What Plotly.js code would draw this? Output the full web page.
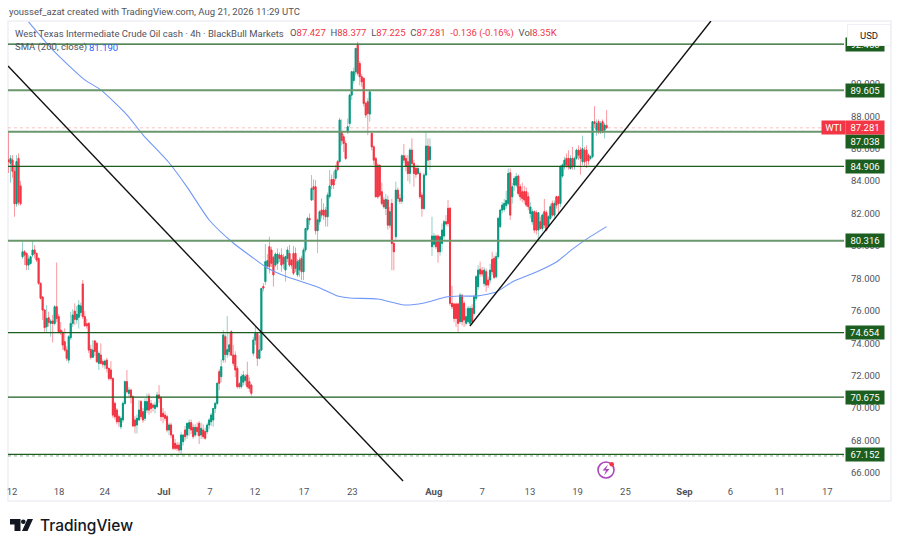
<!DOCTYPE html>
<html><head><meta charset="utf-8">
<script src="https://cdn.plot.ly/plotly-3.0.1.min.js"></script>
<style>html,body{margin:0;padding:0;background:#fff;overflow:hidden}#c{width:900px;height:549px}</style>
</head><body><div id="c"></div>
<script>
var opens=[85.3,85.1,85.3,84.6,82.6,85.4,83.7,79.33,79.64,79.54,
78.82,78.92,79.44,79.75,79.54,79.23,77.69,76.85,76.05,75.02,
75.57,75.22,75.37,75.22,76.25,75.64,74.81,74.67,74.09,73.58,
72.96,74.34,75.22,75.98,75.45,75.6,75.9,77.65,75.64,75.2,
75.22,73.62,73.13,74.14,73.99,72.76,73.27,72.86,72.66,72.96,
72.45,72.35,71.83,70.29,69.88,69.47,68.85,69.27,70.29,71.63,
70.91,71.11,70.7,69.27,68.96,69.27,70.4,69.78,69.37,69.88,
70.74,70.29,70.19,69.98,70.09,70.81,70.66,69.68,69.57,69.47,
68.65,68.96,68.34,67.83,67.72,67.72,67.42,67.93,68.65,68.34,
68.75,69.1,68.81,68.34,68.81,69.06,68.34,68.65,68.55,68.55,
68.96,69.16,69.27,69.98,70.29,72.24,71.94,72.97,74.4,73.3,
73.48,74.71,73.27,73.27,72.45,71.5,71.32,71.6,71.7,72.04,
71.63,71.42,73.38,74.2,74.61,73.07,73.58,77.5,77.8,78.76,
79.95,79.75,79.3,78.82,78.93,79.44,79.44,79.3,78.52,79.23,
79.54,79.13,79.54,79.54,78.21,78.52,79.23,78.41,79.75,81.02,
81.7,82.83,83.65,83.65,80.94,81.5,82.21,82.21,82.21,81.8,
83.04,84.1,84.1,84.17,85.2,85.2,87.0,86.73,86.32,87.04,
87.55,89.3,90.2,90.74,92.38,91.25,90.43,90.33,88.79,88.89,
88.13,86.94,86.11,85.39,84.98,84.98,83.34,82.83,82.31,82.83,
81.28,82.62,80.15,80.57,83.44,82.93,82.76,85.56,85.39,85.19,
84.47,85.91,85.09,84.78,84.47,84.47,83.13,82.31,84.37,86.16,
85.33,79.95,80.1,80.61,80.61,79.64,80.16,80.61,81.49,82.32,
82.32,76.46,76.42,76.42,76.42,75.33,76.97,76.46,75.23,75.33,
75.23,76.15,75.84,76.77,77.49,78.56,78.47,77.69,78.41,77.9,
77.9,79.17,79.23,78.1,79.34,81.19,82.21,82.25,82.5,82.62,
84.51,83.03,83.75,83.75,84.31,83.65,83.34,83.34,83.34,83.03,
82.0,81.49,82.11,82.05,80.98,81.49,81.08,82.11,82.05,81.23,
81.7,82.62,81.9,83.03,83.03,82.62,84.31,84.88,85.4,85.4,
84.78,85.4,84.88,85.4,85.91,85.91,85.19,85.91,85.91,85.6,
85.4,85.5,87.66,87.14,87.66,87.04,87.66,87.14,87.427];
var highs=[87.0,85.6,85.6,85.0,85.6,85.7,84.0,80.26,79.75,79.6,
79.43,79.4,80.36,80.05,79.6,79.3,77.75,76.9,76.1,76.35,
75.94,75.5,75.74,76.35,78.98,75.8,75.3,74.8,74.92,73.8,
74.5,75.94,76.1,76.46,76.3,76.66,76.5,77.9,75.98,75.5,
75.3,73.9,74.2,74.2,74.1,73.5,73.99,73.0,73.0,73.1,
72.5,72.9,71.9,70.4,70.0,69.6,69.5,70.4,71.7,72.35,
71.3,71.2,70.8,69.5,69.6,70.5,70.5,70.0,70.6,70.9,
70.9,70.5,70.3,70.4,71.0,71.42,70.7,70.0,69.8,69.6,
69.1,69.1,68.4,68.1,67.9,67.9,68.5,68.4,68.9,69.1,
69.3,69.3,69.0,69.0,69.1,69.2,69.1,69.0,68.8,69.1,
69.4,69.7,70.0,70.4,71.6,72.4,73.0,74.82,74.6,75.68,
74.7,74.8,73.9,73.5,72.6,71.6,72.1,72.3,72.1,72.86,
71.9,71.5,74.4,75.02,74.7,74.5,77.4,77.7,80.12,79.5,
80.57,79.95,79.4,79.6,79.85,79.6,79.85,79.5,79.4,79.95,
80.06,79.2,80.0,79.9,79.2,79.3,79.4,79.9,81.1,81.8,
82.0,84.37,84.1,84.06,81.7,82.2,82.93,82.63,82.4,83.3,
84.68,84.4,84.6,85.0,85.3,87.9,87.8,86.9,86.5,87.86,
89.4,90.8,91.0,92.2,92.6,91.4,90.6,90.4,88.9,89.1,
89.55,87.0,86.2,85.5,85.1,85.0,83.9,83.0,83.2,83.1,
82.4,82.9,80.3,83.96,83.6,83.2,85.65,86.28,85.6,85.6,
86.05,86.63,85.3,85.0,85.0,84.6,83.3,84.5,87.04,86.63,
86.63,81.8,80.8,80.7,80.7,80.6,81.39,81.6,81.9,82.83,
82.4,77.53,76.5,76.5,76.5,77.1,77.0,76.6,76.15,76.3,
76.3,76.4,77.0,78.2,78.8,79.03,78.7,78.7,78.6,78.1,
78.9,79.64,79.4,79.6,81.8,82.3,82.7,82.9,83.4,84.78,
84.78,83.9,84.3,84.5,84.4,83.8,83.9,83.7,83.6,83.3,
82.7,82.3,82.2,82.2,82.1,81.8,82.0,82.9,82.2,81.9,
82.6,82.8,82.8,83.1,83.1,85.0,85.1,85.5,85.7,85.9,
85.6,86.1,85.5,86.0,86.2,86.1,86.8,86.1,86.2,85.7,
85.6,87.7,88.62,87.8,87.8,87.7,87.8,87.6,88.377];
var lows=[84.5,83.9,84.2,81.8,82.4,82.5,82.5,79.2,78.82,78.51,
78.51,78.85,79.3,79.23,79.0,77.6,76.7,75.43,74.7,74.71,
75.02,74.4,74.05,75.1,75.3,74.6,74.5,73.6,73.48,72.9,
72.76,74.2,75.0,75.12,75.2,74.9,75.7,75.5,75.0,74.9,
73.4,73.0,73.1,73.2,72.8,72.35,72.7,72.5,72.4,72.2,
71.7,71.7,69.4,69.3,69.0,68.85,68.7,69.1,70.2,70.9,
70.7,70.3,68.85,68.44,68.44,69.2,69.3,69.1,69.2,69.7,
69.6,69.7,69.8,69.68,70.0,70.3,69.2,69.06,69.2,68.5,
68.34,68.14,67.4,67.4,67.35,67.25,67.11,67.7,68.0,68.1,
68.3,68.4,68.1,68.2,68.3,67.79,68.1,68.1,68.05,68.4,
68.7,68.9,68.85,69.7,70.2,71.1,71.6,72.8,72.8,73.1,
73.2,73.2,72.6,71.9,71.2,71.2,71.2,71.4,71.4,71.2,
71.0,70.75,73.2,73.9,72.6,73.0,73.5,77.2,77.59,78.6,
78.31,78.7,77.49,78.7,78.52,79.0,78.41,78.6,77.8,79.0,
78.7,78.6,78.2,78.4,78.1,78.1,77.9,77.9,79.6,80.9,
81.3,82.8,82.8,80.7,79.55,81.3,81.7,81.6,81.2,81.19,
82.9,83.5,83.5,84.0,84.6,85.1,86.2,85.8,85.3,86.9,
87.3,88.99,90.0,90.5,90.5,89.9,89.8,88.6,87.9,86.83,
87.66,85.9,85.0,83.0,82.9,83.0,82.5,82.3,81.9,81.0,
81.1,78.5,78.5,80.4,82.7,82.6,82.6,85.1,84.6,84.0,
83.85,84.8,83.65,84.2,84.4,82.9,81.8,82.2,84.3,84.9,
84.7,79.38,79.9,79.8,78.97,79.4,79.64,80.4,81.2,81.2,
76.3,76.1,75.3,75.0,74.71,75.2,75.1,75.0,75.1,75.2,
75.1,75.2,75.7,76.6,77.3,78.1,78.1,77.5,77.18,77.4,
77.7,78.2,77.95,78.0,79.2,81.1,82.0,82.1,82.3,82.5,
81.6,82.6,83.4,83.6,83.1,82.8,82.7,82.6,82.4,82.2,
81.7,81.3,80.8,80.7,80.3,81.0,80.9,81.1,80.9,81.1,
81.6,81.8,81.7,82.3,82.0,82.4,84.2,84.7,84.8,84.7,
84.7,84.7,84.7,85.3,85.3,84.4,85.0,84.9,84.8,85.0,
85.3,85.4,87.25,86.8,86.9,86.9,86.95,86.63,87.225];
var closes=[85.2,85.4,84.6,82.6,85.2,82.7,82.6,79.64,79.44,78.82,
79.19,79.33,79.75,79.54,79.13,77.69,76.77,76.05,74.96,75.53,
75.29,75.37,75.22,76.25,75.53,74.71,74.67,73.89,73.58,73.07,
74.4,75.22,75.74,75.48,75.78,76.35,76.3,75.64,75.08,75.08,
73.58,73.13,73.58,73.5,72.86,73.37,72.76,72.7,72.9,72.45,
71.83,71.83,69.57,69.47,69.16,69.16,69.37,70.29,71.63,71.01,
71.11,70.7,68.9,68.9,69.37,69.88,69.47,69.27,70.4,70.4,
69.88,69.98,70.05,70.19,70.81,70.6,69.47,69.47,69.37,68.65,
68.96,68.34,67.52,67.52,67.52,67.42,68.34,68.34,68.24,69.06,
69.1,68.65,68.24,68.81,68.55,68.3,68.75,68.24,68.14,68.96,
69.27,69.57,69.98,70.29,71.53,71.53,72.55,74.51,73.3,73.6,
73.9,73.27,72.76,72.35,71.32,71.32,71.94,72.04,71.94,71.32,
71.22,70.91,74.2,74.61,73.07,73.58,77.38,77.4,79.03,79.09,
78.72,78.93,78.21,79.5,79.5,79.23,78.82,78.9,79.34,79.75,
78.82,78.82,78.31,78.62,79.03,79.13,78.41,79.75,81.08,81.7,
81.6,83.55,83.5,80.94,81.6,82.11,81.9,81.9,81.8,83.14,
83.7,83.76,83.76,84.68,84.7,87.76,86.5,86.32,85.39,87.35,
89.3,90.74,90.74,92.18,90.64,90.43,90.12,88.79,88.07,88.17,
89.5,86.11,85.29,83.03,83.03,83.13,82.62,82.42,82.87,81.28,
82.11,80.15,79.64,83.44,82.93,82.76,85.56,85.29,84.92,84.47,
85.91,85.09,84.47,84.41,84.78,83.03,82.31,84.37,86.16,85.29,
86.11,80.61,80.61,79.95,79.64,80.57,80.98,81.49,81.35,81.39,
76.46,76.25,75.53,75.53,75.23,76.97,75.33,75.43,75.64,76.15,
76.15,75.33,76.87,78.1,78.51,78.27,78.27,78.51,77.59,77.59,
78.51,78.41,78.06,79.34,81.7,82.21,82.52,82.62,82.8,84.47,
81.9,83.65,84.16,84.27,83.24,83.03,82.93,82.83,82.52,82.42,
82.4,82.11,80.98,80.98,82.05,81.08,81.9,81.29,80.98,81.8,
82.42,81.9,82.62,82.52,82.62,84.88,84.99,85.29,84.99,84.88,
85.4,84.88,85.4,85.91,85.6,85.4,86.0,85.19,85.25,85.25,
85.5,87.66,87.55,87.55,87.04,87.55,87.04,87.45,87.281];

var smaBars=[10,22,38,46,59,67,80,89,100,112,122,129,139,145,154,164,170,184,197,207,218,225,233,243,251,263,273,281,288,298];
var smaValues=[93.81,92.09,90.24,89.62,88.08,86.85,85.13,83.63,81.6,80.18,79.25,78.64,78.08,77.84,77.47,76.91,76.79,76.73,76.36,76.48,76.85,76.91,76.91,77.16,77.78,78.39,79.01,79.8,80.42,81.19];

var levels=[92.45,89.605,87.038,84.906,80.316,74.654,70.675,67.152];
var levelLabels=["92.450","89.605","87.038","84.906","80.316","74.654","70.675","67.152"];
var lastPrice=87.281;
var lowerDotted=67.05;
var downTrendBars=[-0.25,196.6];
var downTrendPrices=[91.09,65.5];
var upTrendBars=[229.9,350];
var upTrendPrices=[75.06,93.87];

var timeTickBars=[1.75,25.2,48,77.4,100.3,122.8,147.2,171.3,211.9,236,259.8,283.5,307.4,336.8,359.7,384.2,408];
var timeTickLabels=["12","18","24","<b>Jul</b>","7","12","17","23","<b>Aug</b>","7","13","19","25","<b>Sep</b>","6","11","17"];
var priceTicks=[66,68,70,72,74,76,78,80,82,84,86,88,90];

var W=900,H=549,L=8,R=844,T=21,B=484;
function px(x){return (x-L)/(R-L);}
function py(y){return (B-y)/(B-T);}
var idx=opens.map(function(_,i){return i;});
var UP="#089981",DN="#f23645",GRN="#1b5e20",FONT="Roboto, 'Liberation Sans', sans-serif",FS=9.5;

var wicks={type:'candlestick',x:idx,open:opens,high:highs,low:lows,close:closes,
 increasing:{line:{color:'rgba(8,153,129,0.45)',width:1},fillcolor:'rgba(8,153,129,0.45)'},
 decreasing:{line:{color:'rgba(242,54,69,0.5)',width:1},fillcolor:'rgba(242,54,69,0.5)'},
 whiskerwidth:0,hoverinfo:'skip',showlegend:false};
var bodies={type:'candlestick',x:idx,open:opens,close:closes,
 high:opens.map(function(o,i){return Math.max(o,closes[i]);}),
 low:opens.map(function(o,i){return Math.min(o,closes[i]);}),
 increasing:{line:{color:UP,width:1},fillcolor:UP},
 decreasing:{line:{color:DN,width:1},fillcolor:DN},
 whiskerwidth:0,hoverinfo:'skip',showlegend:false};
var sma={type:'scatter',mode:'lines',x:smaBars,y:smaValues,line:{color:'#7098f6',width:1.1,shape:'spline',smoothing:0.6},hoverinfo:'skip',showlegend:false};

var shapes=[];
shapes.push({type:'rect',xref:'paper',yref:'paper',x0:0,x1:px(891),y0:py(501),y1:1,line:{color:'#eef0f5',width:1.5},layer:'below'});
var mutedLevels=[89.605,87.038,80.316];
levels.forEach(function(v){
 var muted=mutedLevels.indexOf(v)>=0;
 shapes.push({type:'line',xref:'paper',yref:'y',x0:0,x1:1,y0:v,y1:v,line:{color:muted?'#6a976c':GRN,width:muted?2:1.3},layer:'above'});
});
shapes.push({type:'line',xref:'paper',yref:'y',x0:0,x1:1,y0:lastPrice,y1:lastPrice,line:{color:'rgba(242,54,69,0.3)',width:1,dash:'dot'},layer:'below'});
shapes.push({type:'line',xref:'paper',yref:'y',x0:0,x1:1,y0:lowerDotted,y1:lowerDotted,line:{color:'rgba(27,94,32,0.5)',width:1,dash:'dot'},layer:'below'});
shapes.push({type:'line',xref:'x',yref:'y',x0:downTrendBars[0],x1:downTrendBars[1],y0:downTrendPrices[0],y1:downTrendPrices[1],line:{color:'#111',width:1.4},layer:'above'});
shapes.push({type:'line',xref:'x',yref:'y',x0:upTrendBars[0],x1:upTrendBars[1],y0:upTrendPrices[0],y1:upTrendPrices[1],line:{color:'#111',width:1.4},layer:'above'});
shapes.push({type:'circle',xref:'paper',yref:'paper',x0:px(598),x1:px(614),y0:py(478),y1:py(462),line:{color:'#ab47bc',width:1.6},fillcolor:'#fff',layer:'above'});
shapes.push({type:'path',xref:'paper',yref:'paper',path:'M '+px(608)+' '+py(464.5)+' L '+px(602.5)+' '+py(470.5)+' L '+px(606)+' '+py(470.5)+' L '+px(604)+' '+py(475.5)+' L '+px(609.5)+' '+py(469)+' L '+px(606)+' '+py(469)+' Z',fillcolor:'#ab47bc',line:{width:0},layer:'above'});
shapes.push({type:'circle',xref:'paper',yref:'paper',x0:px(609.5),x1:px(614),y0:py(466.5),y1:py(462),line:{width:0},fillcolor:'#f23645',layer:'above'});
shapes.push({type:'path',xref:'paper',yref:'paper',path:'M '+px(10)+' '+py(519)+' L '+px(20.5)+' '+py(519)+' L '+px(20.5)+' '+py(531)+' L '+px(14.5)+' '+py(531)+' L '+px(14.5)+' '+py(524.5)+' L '+px(10)+' '+py(524.5)+' Z',fillcolor:'#131722',line:{width:0}});
shapes.push({type:'circle',xref:'paper',yref:'paper',x0:px(21),x1:px(25.6),y0:py(524),y1:py(519.4),fillcolor:'#131722',line:{width:0}});
shapes.push({type:'path',xref:'paper',yref:'paper',path:'M '+px(27.5)+' '+py(519)+' L '+px(33)+' '+py(519)+' L '+px(27.5)+' '+py(531)+' L '+px(22)+' '+py(531)+' Z',fillcolor:'#131722',line:{width:0}});

var ann=[];
function txt(x,y,t,size,color,anchor,extra){
 var a={xref:'paper',yref:'paper',x:px(x),y:py(y),text:t,showarrow:false,xanchor:anchor||'left',yanchor:'middle',font:{family:FONT,size:size,color:color},borderpad:0};
 if(extra)for(var k in extra)a[k]=extra[k];
 ann.push(a);
}
txt(8,12,'youssef_azat created with TradingView.com, Aug 21, 2026 11:29 UTC',FS,'#50535e');
var r=function(s){return '<span style="color:#f23645">'+s+'</span>';};
txt(14,33,'West Texas Intermediate Crude Oil cash · 4h · BlackBull Markets',FS,'#50535e');
txt(289,33,'O'+r('87.427')+'  H'+r('88.377')+'  L'+r('87.225')+'  C'+r('87.281')+'  '+r('-0.136 (-0.16%)')+'  Vol'+r('8.35K'),FS,'#50535e');
txt(14,47,'SMA (200, close)',FS,'#50535e');
txt(88,47,'81.190',FS,'#2962ff');
levels.forEach(function(v,i){
 // the 87.038 tag is pushed down below the last-price tag, as in the reference
 ann.push({xref:'paper',yref:'y',x:px(845),y:v,yshift:(v===87.038?-10:0),text:levelLabels[i],showarrow:false,xanchor:'left',yanchor:'middle',width:38,height:13,align:'center',bgcolor:GRN,font:{family:FONT,size:FS,color:'#fff'},borderpad:0});
});
ann.push({xref:'paper',yref:'y',x:px(845),y:lastPrice,text:'87.281',showarrow:false,xanchor:'left',yanchor:'middle',width:38,height:13,align:'center',bgcolor:DN,font:{family:FONT,size:FS,color:'#fff'},borderpad:0});
ann.push({xref:'paper',yref:'y',x:px(821),y:lastPrice,text:'WTI',showarrow:false,xanchor:'left',yanchor:'middle',width:23,height:13,align:'center',bgcolor:DN,font:{family:FONT,size:FS,color:'#fff'},borderpad:0});
txt(847,35,'USD',FS,'#131722','left',{width:42,height:20,align:'center',bgcolor:'#fff',bordercolor:'#eef0f5',borderwidth:1});
txt(39,525.5,'TradingView',15.5,'#131722','left',{font:{family:"Inter, Roboto, sans-serif",size:15.5,color:'#131722',weight:500}});

var layout={width:W,height:H,margin:{l:L,r:W-R,t:T,b:H-B,pad:0},paper_bgcolor:'#fff',plot_bgcolor:'#fff',dragmode:false,showlegend:false,
 xaxis:{type:'linear',range:[-0.25,416.3],rangeslider:{visible:false},showgrid:false,zeroline:false,showline:false,ticks:'',tickmode:'array',tickvals:timeTickBars,ticktext:timeTickLabels,tickangle:0,tickfont:{family:FONT,size:FS,color:'#50535e'}},
 yaxis:{side:'right',type:'linear',range:[65.32,93.87],showgrid:false,zeroline:false,showline:false,ticks:'',tickmode:'array',tickvals:priceTicks,tickformat:'.3f',ticklabelstandoff:6,tickfont:{family:FONT,size:FS,color:'#50535e'}},
 shapes:shapes,annotations:ann};
Plotly.newPlot('c',[wicks,bodies,sma],layout,{staticPlot:true,displayModeBar:false});
</script></body></html>
